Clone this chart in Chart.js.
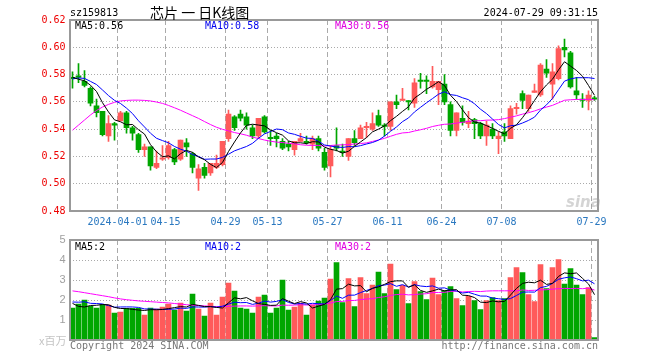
<!DOCTYPE html>
<html>
<head>
<meta charset="utf-8">
<script src="https://cdn.jsdelivr.net/npm/chart.js@4.4.1/dist/chart.umd.min.js"></script>
<style>
  html, body { margin: 0; padding: 0; background: #fff; }
  #wrap { position: relative; width: 660px; height: 360px; overflow: hidden; }
  canvas { position: absolute; left: 0; }
  .t { position: absolute; white-space: pre; font: 10px "DejaVu Sans Mono", monospace; line-height: 12px; }
  .cjk { font-family: "Noto Sans CJK SC", sans-serif; }
</style>
</head>
<body>
<div id="wrap">
  <canvas id="kline" width="660" height="240" style="top:0"></canvas>
  <canvas id="vol" width="660" height="135" style="top:225px"></canvas>

  <div class="t" style="left:70px;top:7px;color:#000">sz159813</div>
  <div class="t cjk" style="left:150px;top:4px;font-size:14px;line-height:16px;color:#000">芯片 一 日K线图</div>
  <div class="t" style="right:62px;top:7px;color:#000">2024-07-29 09:31:15</div>

  <div class="t" id="ma5p" style="left:75px;top:20px;color:#000"></div>
  <div class="t" id="ma10p" style="left:205px;top:20px;color:#0000ee"></div>
  <div class="t" id="ma30p" style="left:335px;top:20px;color:#e000e0"></div>

  <div class="t" id="ma5v" style="left:75px;top:241px;color:#000"></div>
  <div class="t" id="ma10v" style="left:205px;top:241px;color:#0000ee"></div>
  <div class="t" id="ma30v" style="left:335px;top:241px;color:#e000e0"></div>

  <div class="t" style="left:566px;top:194px;font:italic bold 15px 'DejaVu Sans', sans-serif;line-height:16px;color:rgba(160,160,160,0.45)">sina</div>

  <div class="t cjk" style="left:39px;top:334px;font-size:11px;color:#c4c4c4">x百万</div>
  <div class="t" style="left:70px;top:340px;color:#777">Copyright 2024 SINA.COM</div>
  <div class="t" style="right:62px;top:340px;color:#777">http://finance.sina.com.cn</div>
</div>

<script>
// trading days shown on the x axis
const dates = [
  "2024-03-20", "2024-03-21", "2024-03-22", "2024-03-25", "2024-03-26", "2024-03-27", "2024-03-28", "2024-03-29",
  "2024-04-01", "2024-04-02", "2024-04-03", "2024-04-08", "2024-04-09", "2024-04-10", "2024-04-11", "2024-04-12",
  "2024-04-15", "2024-04-16", "2024-04-17", "2024-04-18", "2024-04-19", "2024-04-22", "2024-04-23", "2024-04-24",
  "2024-04-25", "2024-04-26", "2024-04-29", "2024-04-30",
  "2024-05-06", "2024-05-07", "2024-05-08", "2024-05-09", "2024-05-10", "2024-05-13", "2024-05-14", "2024-05-15",
  "2024-05-16", "2024-05-17", "2024-05-20", "2024-05-21", "2024-05-22", "2024-05-23", "2024-05-24", "2024-05-27",
  "2024-05-28", "2024-05-29", "2024-05-30", "2024-05-31",
  "2024-06-03", "2024-06-04", "2024-06-05", "2024-06-06", "2024-06-07", "2024-06-11", "2024-06-12", "2024-06-13",
  "2024-06-14", "2024-06-17", "2024-06-18", "2024-06-19", "2024-06-20", "2024-06-21", "2024-06-24", "2024-06-25",
  "2024-06-26", "2024-06-27", "2024-06-28",
  "2024-07-01", "2024-07-02", "2024-07-03", "2024-07-04", "2024-07-05", "2024-07-08", "2024-07-09", "2024-07-10",
  "2024-07-11", "2024-07-12", "2024-07-15", "2024-07-16", "2024-07-17", "2024-07-18", "2024-07-19", "2024-07-22",
  "2024-07-23", "2024-07-24", "2024-07-25", "2024-07-26", "2024-07-29"
];
const tickDates = ["2024-04-01", "2024-04-15", "2024-04-29", "2024-05-13", "2024-05-27",
  "2024-06-11", "2024-06-24", "2024-07-08", "2024-07-29"];

const openP = [
  .578, .579, .575, .570, .557, .553, .535, .544, .546, .552, .541, .536, .525, .527, .512, .518, .519, .525, .518, .530,
  .522, .504, .512, .508, .512, .514, .533, .549, .551, .549, .541, .535, .549, .534, .535, .531, .529, .525, .531, .531,
  .529, .533, .523, .513, .528, .524, .520, .533, .533, .541, .540, .550, .543, .542, .560, .561, .561, .559, .576, .576,
  .571, .569, .573, .558, .539, .548, .544, .547, .544, .535, .540, .533, .538, .533, .555, .566, .555, .567, .565, .584,
  .573, .577, .600, .596, .568, .562, .561, .563
];
const highP = [
  .582, .588, .583, .571, .562, .553, .550, .545, .553, .553, .542, .537, .529, .527, .524, .528, .531, .526, .532, .533,
  .523, .514, .515, .515, .521, .531, .554, .550, .554, .552, .543, .548, .550, .539, .537, .533, .531, .531, .537, .535,
  .535, .535, .526, .528, .541, .529, .533, .539, .543, .545, .552, .554, .544, .560, .565, .570, .561, .577, .581, .579,
  .586, .575, .580, .560, .552, .557, .553, .548, .545, .546, .544, .538, .544, .557, .559, .568, .565, .573, .588, .591,
  .588, .601, .606, .597, .578, .566, .568, .564
];
const lowP = [
  .570, .574, .571, .557, .549, .535, .531, .532, .546, .537, .532, .523, .520, .510, .511, .517, .518, .514, .517, .520,
  .508, .495, .504, .506, .511, .513, .531, .539, .546, .540, .533, .533, .537, .528, .527, .525, .524, .521, .531, .529,
  .525, .524, .510, .505, .524, .520, .517, .528, .533, .534, .539, .542, .535, .539, .555, .561, .554, .556, .570, .566,
  .570, .558, .558, .535, .535, .543, .541, .533, .533, .528, .533, .522, .531, .533, .551, .555, .553, .567, .564, .578,
  .562, .576, .593, .570, .562, .556, .554, .561
];
const closeP = [
  .577, .578, .572, .559, .552, .536, .544, .543, .552, .541, .537, .525, .527, .513, .515, .519, .528, .516, .532, .527,
  .512, .511, .506, .515, .515, .531, .551, .541, .548, .543, .535, .548, .538, .533, .533, .526, .527, .531, .533, .530,
  .533, .526, .512, .525, .526, .523, .533, .530, .541, .542, .544, .543, .542, .560, .558, .562, .560, .574, .575, .575,
  .575, .575, .560, .539, .552, .545, .546, .544, .535, .543, .535, .535, .535, .555, .556, .561, .565, .568, .587, .581,
  .582, .599, .598, .571, .565, .561, .565, .562
];
// volume, millions
const volume = [
  1.60, 1.80, 2.00, 1.68, 1.60, 1.78, 1.75, 1.35, 1.40, 1.58, 1.58, 1.58, 1.25, 1.60, 1.55, 1.65, 1.80, 1.50, 1.85, 1.45,
  2.30, 1.55, 1.20, 1.85, 1.25, 2.15, 2.85, 2.45, 1.60, 1.55, 1.35, 2.15, 2.25, 1.35, 1.60, 3.00, 1.50, 1.65, 1.85, 1.25,
  1.75, 1.95, 2.10, 3.05, 3.87, 1.87, 3.07, 1.67, 3.12, 2.32, 2.75, 3.40, 2.32, 3.80, 2.52, 2.73, 1.82, 2.92, 2.42, 2.02,
  3.10, 2.27, 2.47, 2.67, 2.07, 1.72, 2.18, 1.97, 1.52, 1.97, 2.12, 1.97, 2.07, 3.12, 3.62, 3.37, 2.27, 1.92, 3.77, 2.57,
  3.62, 4.02, 2.80, 3.57, 2.75, 2.27, 2.62, 0.12
];
// 29 sessions before the first shown day, needed for the moving averages
const prevClose = [
  .466, .460, .447, .455, .460, .486, .497, .522, .529, .531, .525, .533, .525, .539, .549, .573, .567, .586, .587, .572,
  .571, .575, .581, .575, .576, .585, .578, .575, .575
];
const prevVolume = [
  3.00, 3.50, 3.18, 3.10, 3.28, 3.25, 3.15, 2.90, 2.78, 2.48, 2.48, 1.85, 2.20, 2.15, 2.25, 2.40, 2.40, 2.75, 2.35, 3.20,
  1.90, 1.80, 2.45, 1.70, 2.00, 2.55, 2.15, 1.30, 1.55
];
const priceTicks = [0.48, 0.50, 0.52, 0.54, 0.56, 0.58, 0.60, 0.62];
const volTicks = [0, 1, 2, 3, 4, 5];

const UP = "#ff5a5a";
const DOWN = "#00a600";
const CLEAR = "rgba(0,0,0,0)";

function movingAvg(hist, vals, n) {
  const all = hist.concat(vals);
  return vals.map((v, i) => {
    const end = hist.length + i;
    let s = 0;
    for (let k = end - n + 1; k <= end; k++) s += all[k];
    return s / n;
  });
}

const colors = closeP.map((c, i) => (c >= openP[i] ? UP : DOWN));
const ma5 = movingAvg(prevClose, closeP, 5);
const ma10 = movingAvg(prevClose, closeP, 10);
const ma30 = movingAvg(prevClose, closeP, 30);
const vma5 = movingAvg(prevVolume, volume, 5);
const vma10 = movingAvg(prevVolume, volume, 10);
const vma30 = movingAvg(prevVolume, volume, 30);

const last = (a) => a[a.length - 1];
document.getElementById("ma5p").textContent = "MA5:" + last(ma5).toFixed(2);
document.getElementById("ma10p").textContent = "MA10:" + last(ma10).toFixed(2);
document.getElementById("ma30p").textContent = "MA30:" + last(ma30).toFixed(2);
document.getElementById("ma5v").textContent = "MA5:" + Math.floor(last(vma5));
document.getElementById("ma10v").textContent = "MA10:" + Math.floor(last(vma10));
document.getElementById("ma30v").textContent = "MA30:" + Math.floor(last(vma30));

const tickIdx = tickDates.map((d) => dates.indexOf(d));

// frame round the plot area
const framePlugin = {
  id: "frame",
  afterDraw(chart) {
    const { ctx, chartArea: a } = chart;
    const l = Math.round(a.left), t = Math.round(a.top);
    const r = Math.round(a.right), b = Math.round(a.bottom);
    ctx.save();
    ctx.strokeStyle = "#999";
    ctx.lineWidth = 2;
    ctx.strokeRect(l, t, r - l, b - t);
    ctx.restore();
  },
};

function lineSet(data, color, order) {
  return {
    type: "line",
    data: data,
    borderColor: color,
    borderWidth: 1,
    pointRadius: 0,
    tension: 0,
    fill: false,
    order: order,
  };
}

function xScale(showLabels, height) {
  return {
    type: "category",
    offset: true,
    grid: {
      offset: true,
      drawTicks: false,
      lineWidth: 1,
      color: (c) => (tickIdx.includes(c.index) ? "#aaa" : CLEAR),
    },
    border: { display: false, dash: [5, 3] },
    ticks: {
      display: showLabels,
      autoSkip: false,
      maxRotation: 0,
      minRotation: 0,
      padding: 5,
      labelOffset: -3,
      color: "#2a78c0",
      font: { family: "'DejaVu Sans Mono', monospace", size: 10 },
      callback: (v, i) => {
        const k = tickDates.indexOf(dates[i]);
        if (k < 0) return "";
        return k === 0 ? dates[i] : dates[i].slice(5);
      },
    },
    afterFit: (s) => { s.height = height; },
  };
}

function yScale(ticksArr, color, font, fmt) {
  const lo = ticksArr[0], hi = ticksArr[ticksArr.length - 1];
  return {
    min: lo,
    max: hi,
    grid: {
      drawTicks: false,
      lineWidth: 1,
      color: (c) => (c.tick && (Math.abs(c.tick.value - lo) < 1e-6 || Math.abs(c.tick.value - hi) < 1e-6) ? CLEAR : "#aaa"),
    },
    border: { display: false, dash: [1, 2] },
    ticks: {
      stepSize: ticksArr[1] - ticksArr[0],
      padding: 4,
      color: color,
      font: font,
      callback: fmt,
    },
    afterBuildTicks: (s) => { s.ticks = ticksArr.map((v) => ({ value: v })); },
    afterFit: (s) => { s.width = 69.5; },
  };
}

new Chart(document.getElementById("kline"), {
  type: "bar",
  data: {
    labels: dates,
    datasets: [
      lineSet(ma5, "#000", 0.1),
      lineSet(ma10, "#0000ff", 0.2),
      lineSet(ma30, "#ff00ff", 0.3),
      {
        data: openP.map((o, i) => [o, closeP[i]]),
        backgroundColor: colors,
        barThickness: 5,
        minBarLength: 1,
        grouped: false,
        borderWidth: 0,
        order: 1,
      },
      {
        data: lowP.map((l, i) => [l, highP[i]]),
        backgroundColor: colors,
        barThickness: 1,
        grouped: false,
        borderWidth: 0,
        order: 2,
      },
    ],
  },
  options: {
    responsive: false,
    animation: false,
    devicePixelRatio: 1,
    layout: { padding: { left: 0, right: 62.5, top: 20, bottom: 0 } },
    plugins: { legend: { display: false }, tooltip: { enabled: false } },
    scales: {
      x: xScale(true, 29),
      y: yScale(priceTicks, "#ee0000", { family: "'DejaVu Sans Mono', monospace", size: 10 }, (v) => Number(v).toFixed(2)),
    },
  },
  plugins: [framePlugin],
});

new Chart(document.getElementById("vol"), {
  type: "bar",
  data: {
    labels: dates,
    datasets: [
      lineSet(vma5, "#000", 0.1),
      lineSet(vma10, "#0000ff", 0.2),
      lineSet(vma30, "#ff00ff", 0.3),
      {
        data: volume,
        backgroundColor: colors,
        barThickness: 5,
        grouped: false,
        borderWidth: 0,
        order: 1,
      },
    ],
  },
  options: {
    responsive: false,
    animation: false,
    devicePixelRatio: 1,
    layout: { padding: { left: 0, right: 62.5, top: 15, bottom: 0 } },
    plugins: { legend: { display: false }, tooltip: { enabled: false } },
    scales: {
      x: xScale(false, 20),
      y: yScale(volTicks, "#a0a0a0", { family: "'Liberation Sans', sans-serif", size: 11 }, (v) => (v === 0 ? "" : String(v))),
    },
  },
  plugins: [framePlugin],
});
</script>
</body>
</html>
